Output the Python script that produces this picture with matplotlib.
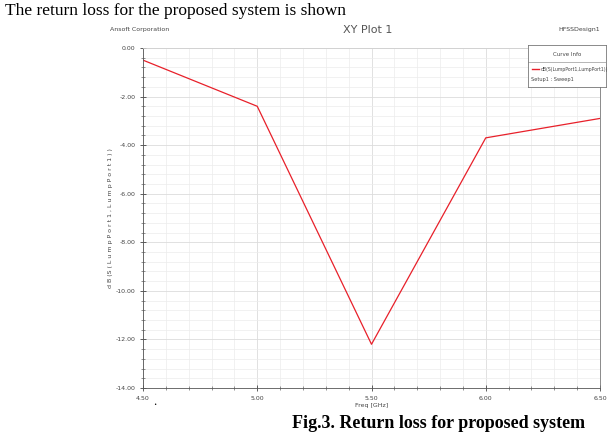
import matplotlib
matplotlib.use("Agg")
import matplotlib.pyplot as plt
import numpy as np
from matplotlib.ticker import MultipleLocator, FormatStrFormatter

freq = [4.5, 5.0, 5.5, 6.0, 6.5]
s11 = [-0.5, -2.4, -12.2, -3.7, -2.9]
xticks = [4.5, 5.0, 5.5, 6.0, 6.5]
yticks = [0, -2, -4, -6, -8, -10, -12, -14]

W, H = 613, 432
fig = plt.figure(figsize=(W / 100, H / 100), dpi=100)
ax = fig.add_axes([143 / W, 1 - 388 / H, (600 - 143) / W, (388 - 48) / H])

ax.plot(freq, s11, color="#e8202a", lw=0.9)
ax.set_xlim(4.5, 6.5)
ax.set_ylim(-14, 0)
ax.set_xticks(xticks)
ax.set_yticks(yticks)
ax.xaxis.set_major_formatter(FormatStrFormatter("%.2f"))
ax.yaxis.set_major_formatter(FormatStrFormatter("%.2f"))
ax.xaxis.set_minor_locator(MultipleLocator(0.1))
ax.yaxis.set_minor_locator(MultipleLocator(0.4))
ax.grid(True, which="major", color="#dcdcdc", lw=0.6)
ax.grid(True, which="minor", color="#ececec", lw=0.5)
ax.tick_params(which="major", labelsize=4.5, length=4, width=0.6, colors="#444444", direction="inout")
ax.tick_params(which="minor", length=2.5, width=0.5, colors="#666666", direction="inout")
ax.spines["top"].set_color("#d0d0d0")
ax.spines["right"].set_color("#777777")
ax.spines["left"].set_color("#555555")
ax.spines["bottom"].set_color("#555555")
for s in ax.spines.values():
    s.set_linewidth(0.6)

ax.set_xlabel("Freq [GHz]", fontsize=4.5, color="#444444", labelpad=2)
ax.set_ylabel("d B (S ( L u m p P o r t 1 , L u m p P o r t 1 ) )", fontsize=4.5, color="#444444", labelpad=2)

fig.text(368 / W, 1 - 30 / H, "XY Plot 1", fontsize=8, color="#555555", ha="center", va="center")
fig.text(110 / W, 1 - 30 / H, "Ansoft Corporation", fontsize=4.5, color="#444444", ha="left", va="center")
fig.text(600 / W, 1 - 30 / H, "HFSSDesign1", fontsize=4.5, color="#444444", ha="right", va="center")

# curve info box
lg = fig.add_axes([528 / W, 1 - 87 / H, 78 / W, 42 / H])
lg.set_xlim(0, 78)
lg.set_ylim(42, 0)
lg.set_xticks([])
lg.set_yticks([])
for s in lg.spines.values():
    s.set_color("#777777")
    s.set_linewidth(0.6)
lg.text(39, 10, "Curve Info", fontsize=4.0, color="#444444", ha="center", va="center")
lg.axhline(17, color="#999999", lw=0.5)
lg.plot([4, 11], [24, 24], color="#e8202a", lw=1)
lg.text(13, 24, "dB(S(LumpPort1,LumpPort1))", fontsize=3.3, color="#444444", va="center")
lg.text(3, 35, "Setup1 : Sweep1", fontsize=3.6, color="#444444", va="center")

fig.text(5 / W, 1 - 11 / H, "The return loss for the proposed system is shown",
         fontsize=12.5, family="Liberation Serif", ha="left", va="center")
fig.text(155 / W, 1 - 402 / H, ".", fontsize=9, family="Liberation Serif", ha="center", va="center")
fig.text(292 / W, 1 - 423 / H, "Fig.3. Return loss for proposed system",
         fontsize=13, family="Liberation Serif", weight="bold", ha="left", va="center")

fig.savefig("out.png", dpi=100)
